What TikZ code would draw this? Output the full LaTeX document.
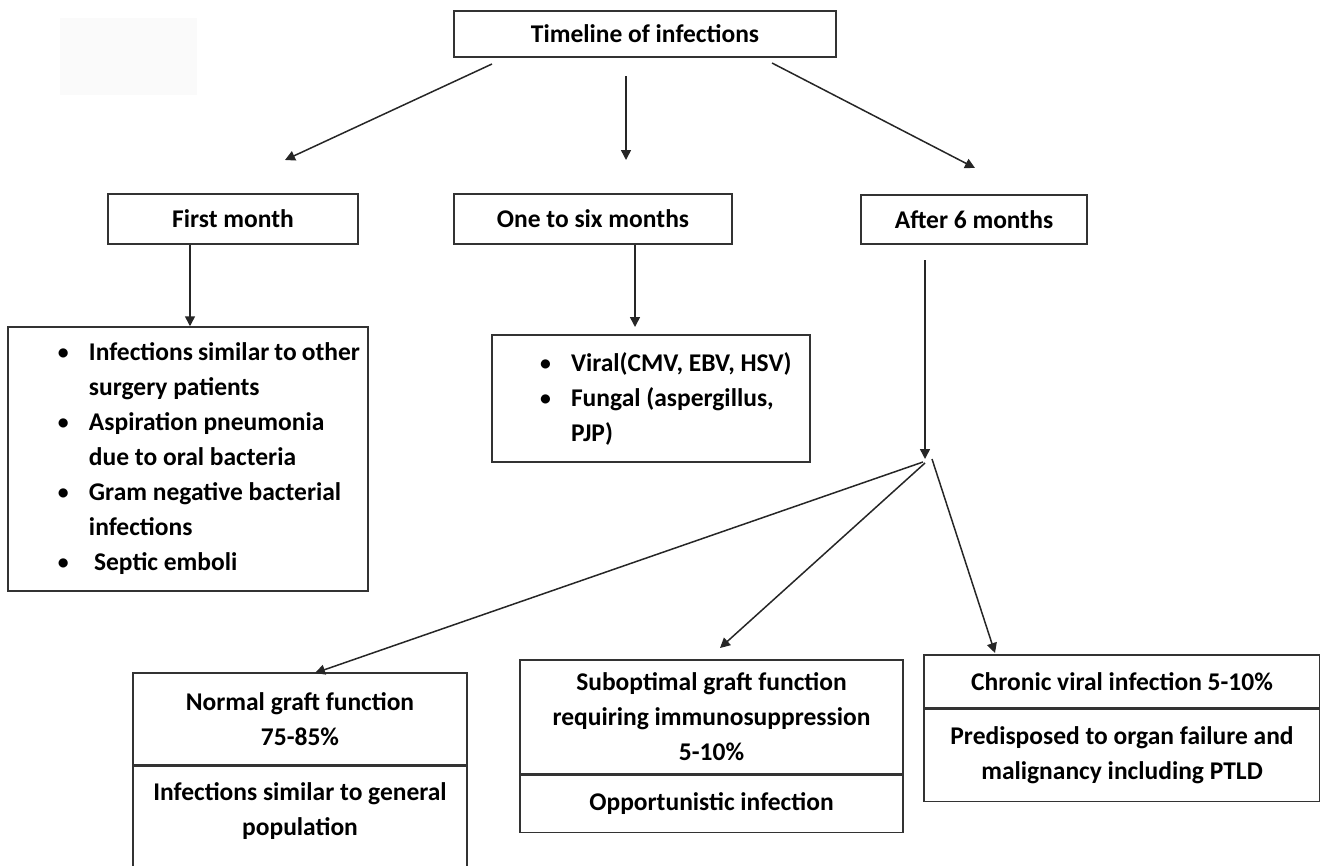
\documentclass[tikz,border=0pt]{standalone}
\usepackage{fontspec}
\setmainfont{Carlito}
\usetikzlibrary{arrows.meta,calc}
\newcommand{\mybul}{\makebox[31pt][l]{\raisebox{1pt}{\scalebox{0.85}{•}}}}
\begin{document}
\begin{tikzpicture}[x=1pt,y=-1pt,
  txt/.style={font=\bfseries\fontsize{25.5}{35}\selectfont, align=center, inner sep=0pt},
  box/.style={txt, draw=black!80, line width=1.5pt},
  arr/.style={line width=1.5pt, draw=black!85, -{Triangle[width=10pt,length=10pt]}},
]
\useasboundingbox (0,0) rectangle (1320,865);
\fill[black!2] (60,18) rectangle (197,95);

% top levels
\node[box, minimum width=382pt, minimum height=46pt] (tl) at (645,34) {Timeline of infections};
\node[box, minimum width=250pt, minimum height=50pt] (fm) at (233,219) {First month};
\node[box, minimum width=278pt, minimum height=50pt] (os) at (593,219) {One to six months};
\node[box, minimum width=226pt, minimum height=49pt] (am) at (974,219.5) {After 6 months};

% lists
\node[box, minimum width=360pt, minimum height=264pt, text width=344pt, align=flush left, inner xsep=8pt] (fl) at (188,459) {%
\hspace*{42pt}\mybul Infections similar to other\\
\hspace*{73pt}surgery patients\\
\hspace*{42pt}\mybul Aspiration pneumonia\\
\hspace*{73pt}due to oral bacteria\\
\hspace*{42pt}\mybul Gram negative bacterial\\
\hspace*{73pt}infections\\
\hspace*{42pt}\mybul\hspace*{5pt}Septic emboli};
\node[box, minimum width=318pt, minimum height=127pt, text width=302pt, align=flush left, inner xsep=8pt] (ol) at (651,398.5) {%
\hspace*{40pt}\mybul Viral(CMV, EBV, HSV)\\
\hspace*{40pt}\mybul Fungal (aspergillus,\\
\hspace*{71pt}PJP)};

% outcomes
\node[box, minimum width=334pt, minimum height=92pt] (ng) at (300,719) {Normal graft function\\75-85\%};
\node[box, minimum width=334pt, minimum height=125pt, anchor=north] (ngb) at (ng.south) {};
\node[txt] (ngt) at (300,811) {Infections similar to general\\population};

\node[box, minimum width=383pt, minimum height=114pt] (sg) at (711.5,717) {Suboptimal graft function\\requiring immunosuppression\\5-10\%};
\node[box, minimum width=383pt, minimum height=57pt, anchor=north] (sgb) at (sg.south) {Opportunistic infection};

\node[box, minimum width=396pt, minimum height=53pt] (cv) at (1122,681.5) {Chronic viral infection 5-10\%};
\node[box, minimum width=396pt, minimum height=92pt, anchor=north] (cvb) at (cv.south) {Predisposed to organ failure and\\malignancy including PTLD};

% connector end points
\coordinate (t1) at (492,64);  \coordinate (h1) at (285,160);
\coordinate (t2) at (626,76);  \coordinate (h2) at (626,160);
\coordinate (t3) at (772,63);  \coordinate (h3) at (975,168);
\coordinate (cx1) at (190,0);
\coordinate (cx2) at (635,0);  \coordinate (h5) at (635,327);
\coordinate (t6) at (925,260); \coordinate (hub) at (925,459);
\coordinate (s7) at (923,462); \coordinate (h7) at (315,673);
\coordinate (s8) at (925,463); \coordinate (h8) at (720,648);
\coordinate (s9) at (932,459); \coordinate (h9) at (995,653);

\draw[arr] (t1) -- (h1);
\draw[arr] (t2) -- (h2);
\draw[arr] (t3) -- (h3);
\draw[arr] (fm.south -| cx1) -- (fl.north -| cx1);
\draw[arr] (os.south -| cx2) -- (h5);
\draw[arr] (t6) -- (hub);
\draw[arr] (s7) -- (h7);
\draw[arr] (s8) -- (h8);
\draw[arr] (s9) -- (h9);
\end{tikzpicture}
\end{document}
